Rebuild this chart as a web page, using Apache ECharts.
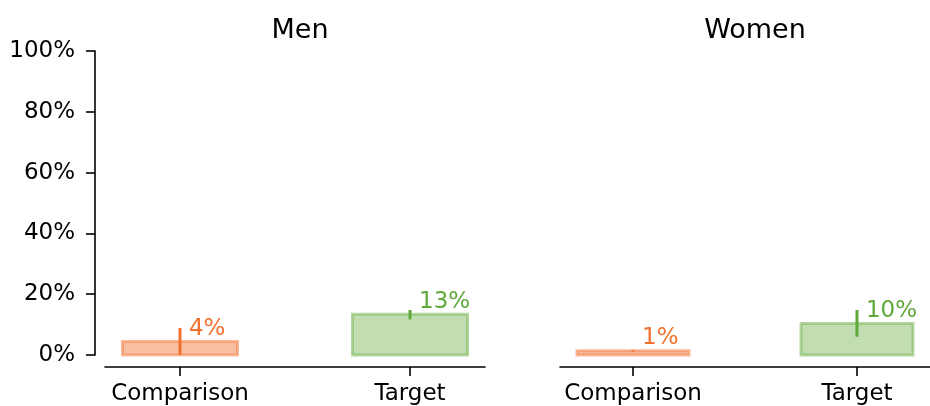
<!DOCTYPE html>
<html>
<head>
<meta charset="utf-8">
<script src="https://cdn.jsdelivr.net/npm/echarts@6/dist/echarts.min.js"></script>
<style>html,body{margin:0;padding:0;background:#fff}#c{width:930px;height:406px}</style>
</head>
<body>
<div id="c"></div>
<script>
var panels = ['Men', 'Women'];
var categories = ['Comparison', 'Target'];
var menValues = [4.4, 13.4];
var womenValues = [1.4, 10.4];
var menErrLow = [0, 11.7];
var menErrHigh = [8.9, 14.8];
var womenErrLow = [1.1, 6.0];
var womenErrHigh = [1.6, 14.8];
var yTicks = [0, 20, 40, 60, 80, 100];

var FONT = 'DejaVu Sans';
var fills = ['rgba(244,128,72,0.5)', 'rgba(132,188,100,0.5)'];
var edges = ['rgba(244,128,72,0.55)', 'rgba(120,182,88,0.55)'];
var strong = ['#f2702e', '#5fa83a'];

function makeData(vals, lo, hi) {
  return vals.map(function (v, i) { return [i, v, lo[i], hi[i]]; });
}

function renderItem(params, api) {
  var i = api.value(0), v = api.value(1), lo = api.value(2), hi = api.value(3);
  var p0 = api.coord([i - 0.25, v]);
  var p1 = api.coord([i + 0.25, 0]);
  var c = api.coord([i, v]);
  var eLo = api.coord([i, lo]);
  var eHi = api.coord([i, hi]);
  return {
    type: 'group',
    children: [
      { type: 'rect', shape: { x: p0[0], y: p0[1], width: p1[0] - p0[0], height: p1[1] - p0[1] },
        style: { fill: fills[i], stroke: edges[i], lineWidth: 3 } },
      { type: 'line', shape: { x1: c[0], y1: eLo[1], x2: c[0], y2: eHi[1] },
        style: { stroke: strong[i], lineWidth: 3 } },
      { type: 'text', x: c[0] + 9, y: c[1] - 1,
        style: { text: Math.round(v) + '%', fill: strong[i], font: '23px "' + FONT + '"', align: 'left', verticalAlign: 'bottom' } }
    ]
  };
}

function xAxisDef(gi) {
  return {
    type: 'value', gridIndex: gi, min: -0.326, max: 1.326, offset: 12,
    splitLine: { show: false },
    axisLine: { show: true, onZero: false, lineStyle: { color: '#000', width: 1.6 } },
    axisTick: { show: true, length: 9, lineStyle: { color: '#000', width: 1.6 }, customValues: [0, 1] },
    axisLabel: { customValues: [0, 1], color: '#000', fontSize: 23, fontFamily: FONT, margin: 16,
      formatter: function (val) { return categories[Math.round(val)]; } }
  };
}

var option = {
  animation: false,
  backgroundColor: '#fff',
  title: [
    { text: panels[0], left: 295, top: 12, textAlign: 'center', textStyle: { fontFamily: FONT, fontSize: 27, fontWeight: 'normal', color: '#000' } },
    { text: panels[1], left: 750, top: 12, textAlign: 'center', textStyle: { fontFamily: FONT, fontSize: 27, fontWeight: 'normal', color: '#000' } }
  ],
  grid: [
    { left: 105, width: 380, top: 51, bottom: 51 },
    { left: 560, width: 380, top: 51, bottom: 51 }
  ],
  xAxis: [xAxisDef(0), xAxisDef(1)],
  yAxis: [
    { type: 'value', gridIndex: 0, min: 0, max: 100, interval: 20, offset: 10,
      splitLine: { show: false },
      axisLine: { show: true, onZero: false, lineStyle: { color: '#000', width: 1.6 } },
      axisTick: { show: true, length: 9, lineStyle: { color: '#000', width: 1.6 } },
      axisLabel: { color: '#000', fontSize: 23, fontFamily: FONT, margin: 20,
        formatter: function (v) { return v + '%'; } } },
    { type: 'value', gridIndex: 1, min: 0, max: 100, interval: 20, show: false }
  ],
  series: [
    { type: 'custom', xAxisIndex: 0, yAxisIndex: 0, renderItem: renderItem, data: makeData(menValues, menErrLow, menErrHigh), clip: false },
    { type: 'custom', xAxisIndex: 1, yAxisIndex: 1, renderItem: renderItem, data: makeData(womenValues, womenErrLow, womenErrHigh), clip: false }
  ]
};
var chart = echarts.init(document.getElementById('c'), null, { renderer: 'canvas' });
chart.setOption(option);
</script>
</body>
</html>
